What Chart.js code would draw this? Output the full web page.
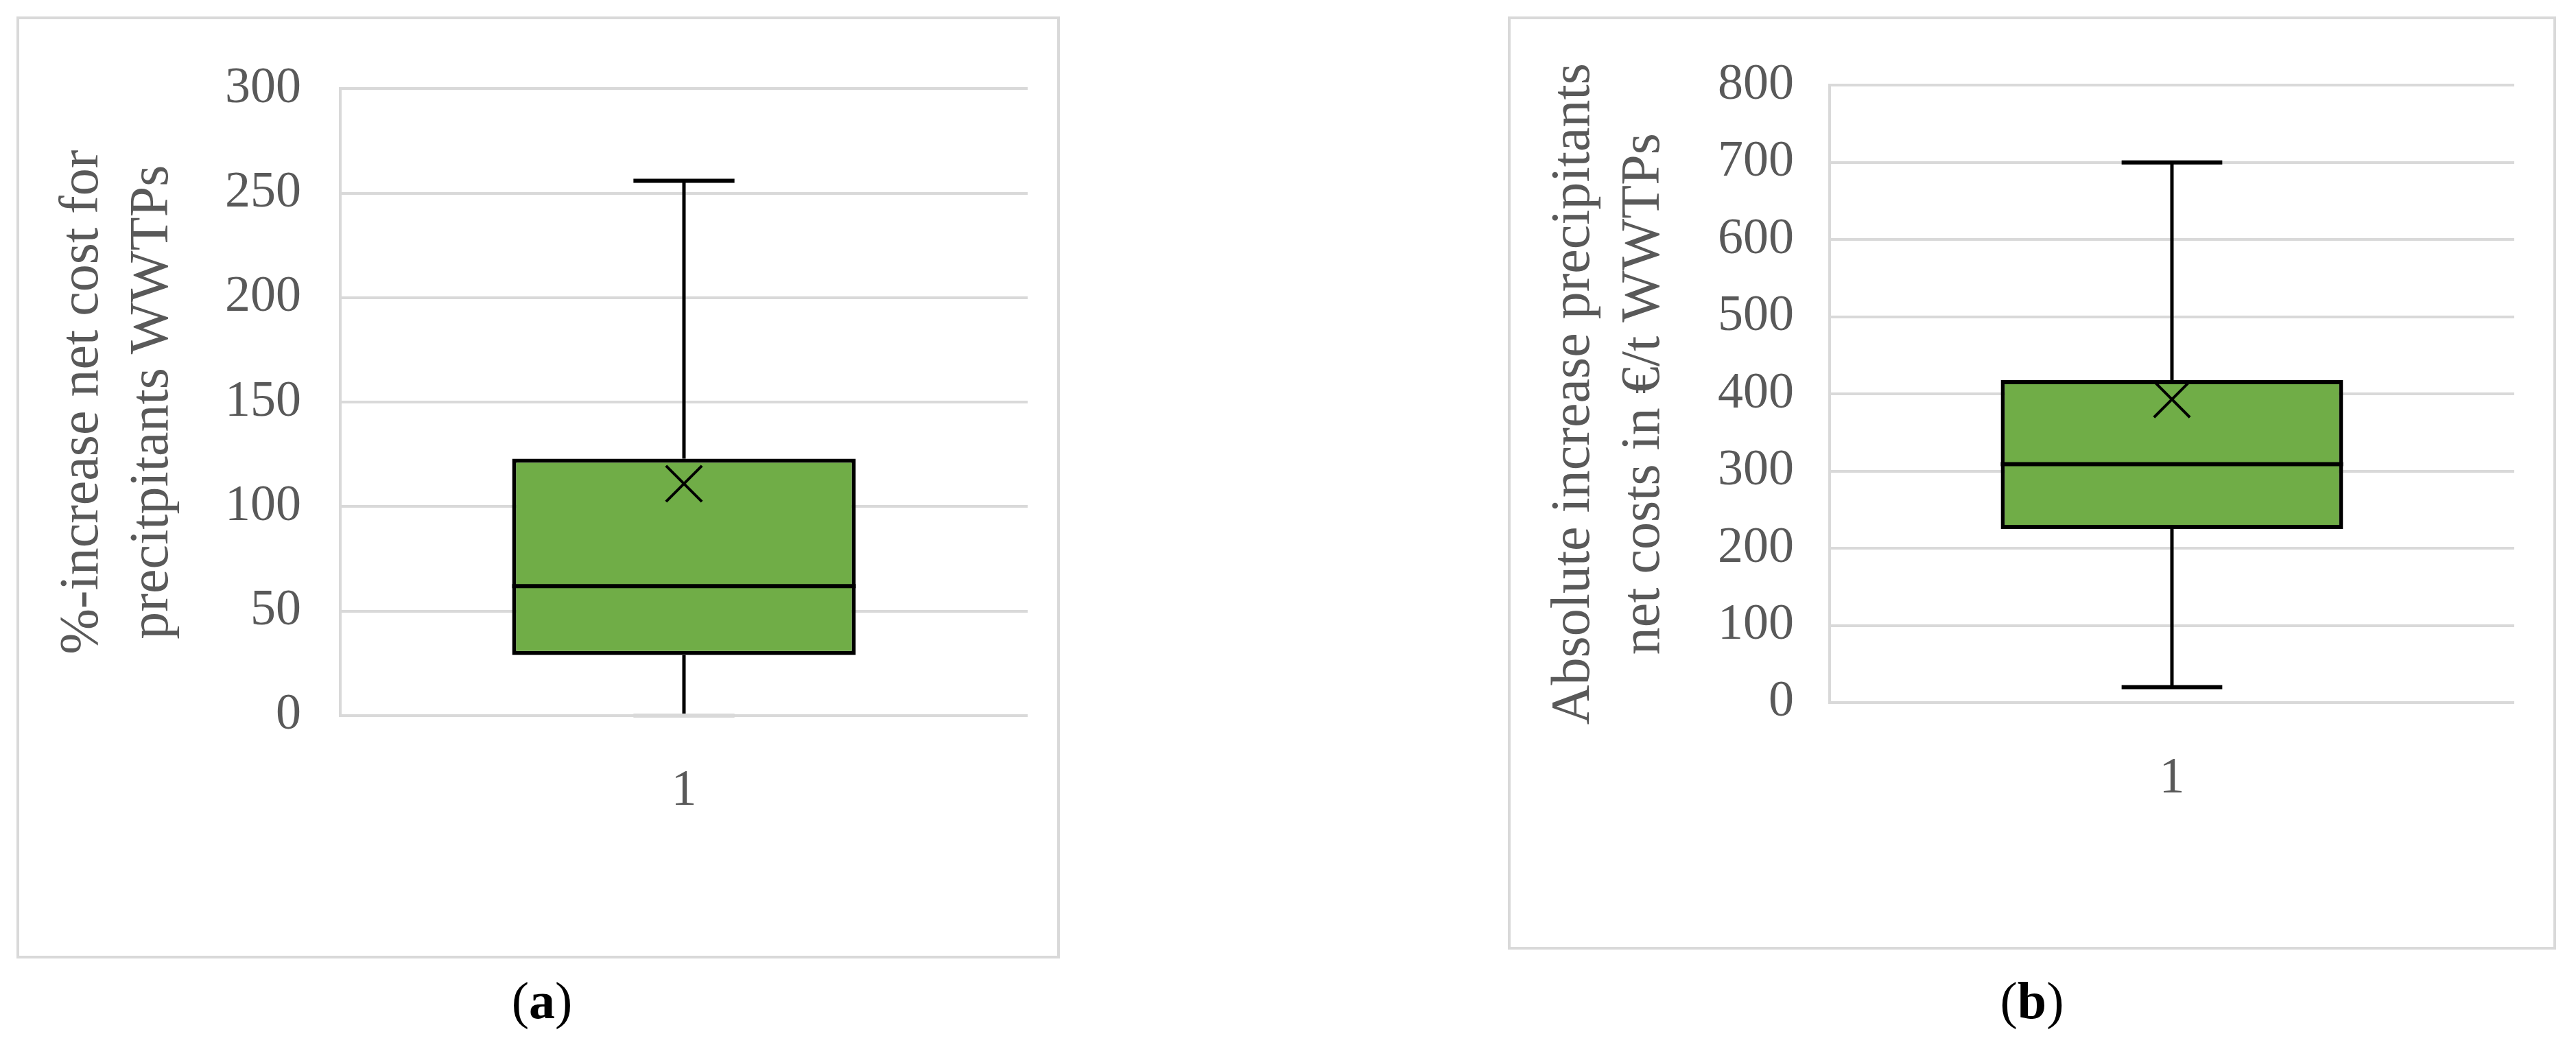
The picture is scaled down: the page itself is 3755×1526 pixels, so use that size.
<!DOCTYPE html>
<html>
<head>
<meta charset="utf-8">
<script src="https://cdn.jsdelivr.net/npm/chart.js@4.4.1/dist/chart.umd.min.js"></script>
<style>
    html, body { margin: 0; padding: 0; background: #fff; }
    body { width: 3755px; height: 1526px; position: relative; overflow: hidden; font-family: 'Liberation Serif', serif; }
    .panel { position: absolute; box-sizing: border-box; border: 4px solid #d9d9d9; background: #fff; }
    .panel canvas { display: block; }
    #panel-a { left: 24px; top: 24px; width: 1521px; height: 1373px; }
    #panel-b { left: 2198px; top: 24px; width: 1528px; height: 1360px; }
    .caption { position: absolute; top: 1420px; width: 200px; font-size: 76px; line-height: 1; text-align: center; color: #000; }
    #caption-a { left: 690px; }
    #caption-b { left: 2862px; }
</style>
</head>
<body>
<div class="panel" id="panel-a"><canvas id="chart-a" width="1513" height="1365"></canvas></div>
<div class="panel" id="panel-b"><canvas id="chart-b" width="1520" height="1352"></canvas></div>
<div class="caption" id="caption-a">(<b>a</b>)</div>
<div class="caption" id="caption-b">(<b>b</b>)</div>
<script>
// --- Data ---
const categories = ['1'];

// min, Q1, median, Q3, max
const boxA = [0, 29, 62, 123, 256];
const meanA = [111];
const ticksA = [0, 50, 100, 150, 200, 250, 300];
const titleA = ['%-increase net cost for', 'precitpitants WWTPs'];

const boxB = [20, 225, 309, 418, 700];
const meanB = [393];
const ticksB = [0, 100, 200, 300, 400, 500, 600, 700, 800];
const titleB = ['Absolute increase precipitants', 'net costs in €/t WWTPs'];

Chart.defaults.font.family = "'Liberation Serif', 'DejaVu Serif', serif";

/**
 * Draws whiskers, caps and the median line around the floating bar (the box).
 */
const boxWhiskers = {
    id: 'boxWhiskers',
    beforeDatasetsDraw(chart, args, opts) {
        const { ctx, scales: { x, y } } = chart;
        const [min, q1, , q3, max] = opts.box;
        const bar = chart.getDatasetMeta(1).data[0];
        const cx = x.getPixelForValue(0);
        const capHalf = bar.width * 0.147;

        ctx.save();
        ctx.strokeStyle = '#000';
        ctx.lineWidth = 5;
        ctx.beginPath();
        ctx.moveTo(cx, y.getPixelForValue(q3));
        ctx.lineTo(cx, y.getPixelForValue(max));
        ctx.moveTo(cx, y.getPixelForValue(q1));
        ctx.lineTo(cx, y.getPixelForValue(min));
        ctx.stroke();

        ctx.lineWidth = 6;
        [[min, opts.capColors[0]], [max, opts.capColors[1]]].forEach(([v, color]) => {
            const py = y.getPixelForValue(v);
            ctx.strokeStyle = color;
            ctx.beginPath();
            ctx.moveTo(cx - capHalf, py);
            ctx.lineTo(cx + capHalf, py);
            ctx.stroke();
        });
        ctx.restore();
    },
    afterDatasetDraw(chart, args, opts) {
        if (args.index !== 1) return;
        const { ctx, scales: { y } } = chart;
        const bar = args.meta.data[0];
        const py = y.getPixelForValue(opts.box[2]);
        ctx.save();
        ctx.strokeStyle = '#000';
        ctx.lineWidth = 6;
        ctx.beginPath();
        ctx.moveTo(bar.x - bar.width / 2, py);
        ctx.lineTo(bar.x + bar.width / 2, py);
        ctx.stroke();
        ctx.restore();
    }
};

/**
 * Builds one box plot panel.
 */
function makeBoxChart(canvas, cfg) {
    return new Chart(canvas, {
        type: 'bar',
        data: {
            labels: categories,
            datasets: [{
                type: 'line',
                data: cfg.mean,
                showLine: false,
                pointStyle: 'crossRot',
                pointRadius: 37,
                pointBorderWidth: 4,
                pointBorderColor: '#000',
                pointBackgroundColor: 'rgba(0,0,0,0)',
                order: 0
            }, {
                type: 'bar',
                data: [[cfg.box[1], cfg.box[3]]],
                backgroundColor: '#70ad47',
                borderColor: '#000',
                borderWidth: 6,
                borderSkipped: false,
                categoryPercentage: 1,
                barPercentage: 0.5,
                order: 1
            }]
        },
        options: {
            responsive: false,
            animation: false,
            devicePixelRatio: 1,
            layout: { padding: { top: cfg.padTop, right: cfg.padRight, bottom: 0, left: 0 } },
            plugins: {
                legend: { display: false },
                tooltip: { enabled: false },
                boxWhiskers: { box: cfg.box, capColors: cfg.capColors }
            },
            scales: {
                x: {
                    grid: { display: false, drawTicks: false },
                    border: { display: false },
                    ticks: { padding: cfg.xPad, color: '#595959', font: { size: 74 } },
                    afterFit: s => { s.height = cfg.xHeight; }
                },
                y: {
                    min: cfg.ticks[0],
                    max: cfg.ticks[cfg.ticks.length - 1],
                    ticks: { stepSize: cfg.ticks[1] - cfg.ticks[0], padding: cfg.yPad, color: '#595959', font: { size: 74 } },
                    grid: { color: '#d9d9d9', lineWidth: 4, drawTicks: false },
                    border: { display: true, color: '#d9d9d9', width: 4 },
                    title: {
                        display: true,
                        text: cfg.title,
                        color: '#595959',
                        font: { size: 80, lineHeight: 1.275 },
                        padding: { top: 42, bottom: 0 }
                    },
                    afterFit: s => { s.width = cfg.yWidth; }
                }
            }
        },
        plugins: [boxWhiskers]
    });
}

makeBoxChart(document.getElementById('chart-a'), {
    box: boxA, mean: meanA, ticks: ticksA, title: titleA,
    capColors: ['#d9d9d9', '#000'],
    padTop: 89, padRight: 43, yWidth: 468, yPad: 57, xHeight: 350, xPad: 66
});

makeBoxChart(document.getElementById('chart-b'), {
    box: boxB, mean: meanB, ticks: ticksB, title: titleB,
    capColors: ['#000', '#000'],
    padTop: 89, padRight: 57, yWidth: 465, yPad: 52, xHeight: 356, xPad: 67
});
</script>
</body>
</html>
